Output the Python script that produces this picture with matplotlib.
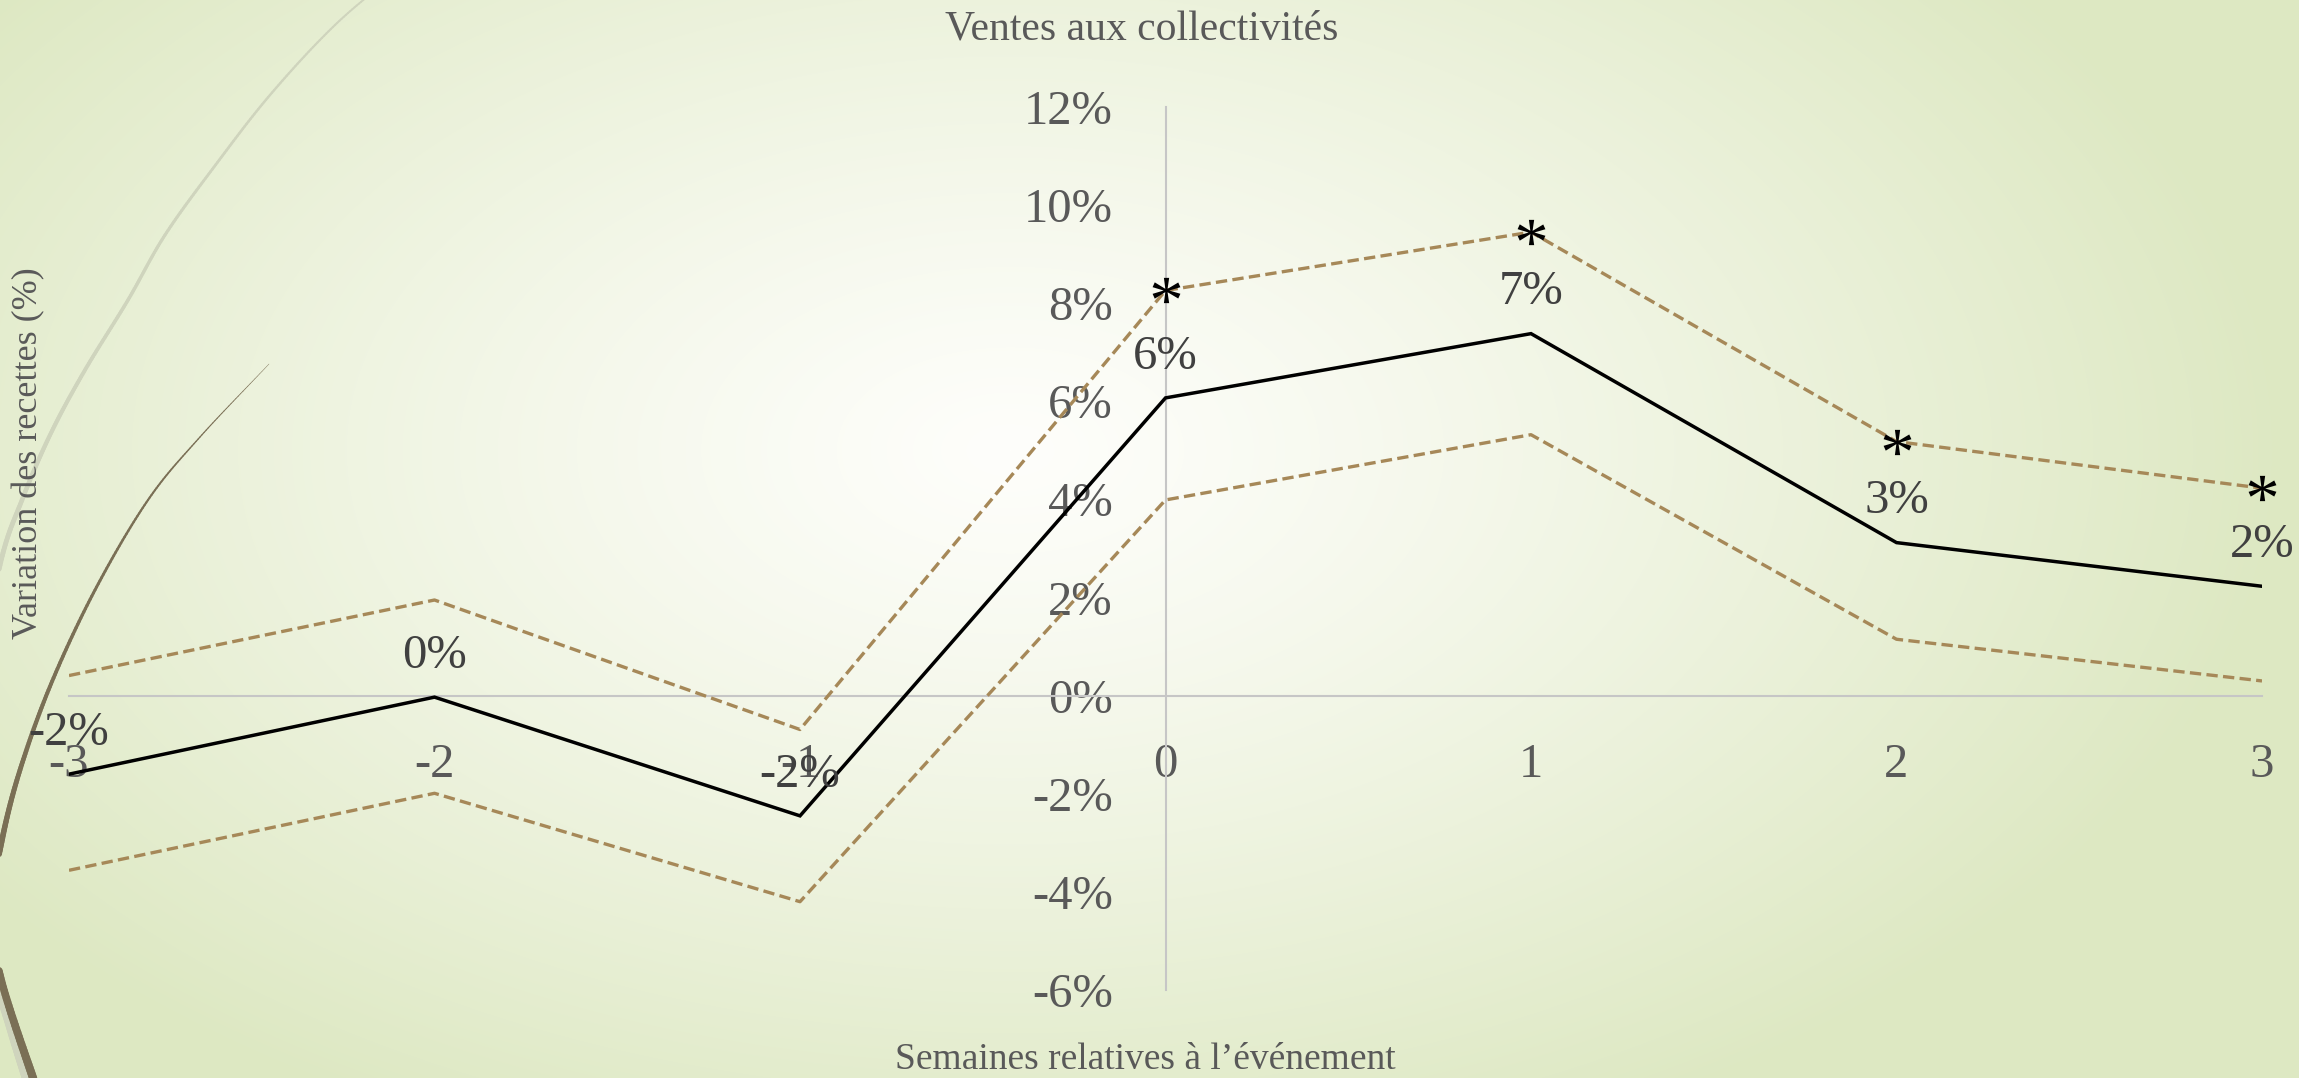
import numpy as np
import matplotlib
matplotlib.use("Agg")
import matplotlib.pyplot as plt
from matplotlib.collections import LineCollection
from matplotlib.textpath import TextPath
from matplotlib.font_manager import FontProperties
from matplotlib.path import Path

# ---------------- data ----------------
weeks = [-3, -2, -1, 0, 1, 2, 3]
effect = [-1.60, -0.03, -2.45, 6.07, 7.38, 3.12, 2.23]
ci_upper = [0.41, 1.95, -0.69, 8.26, 9.45, 5.18, 4.23]
ci_lower = [-3.56, -1.99, -4.20, 3.99, 5.32, 1.15, 0.30]
significant = [False, False, False, True, True, True, True]
y_ticks = [-6, -4, -2, 0, 2, 4, 6, 8, 10, 12]
title = "Ventes aux collectivités"
xlabel = "Semaines relatives à l\u2019événement"
ylabel = "Variation des recettes (%)"

plt.rcParams["font.family"] = ["Liberation Serif", "DejaVu Serif"]

W, H = 2299, 1078
fig = plt.figure(figsize=(W / 100, H / 100), dpi=100)

# ---------------- background (radial gradient + decorative arcs) ----------------
bg = fig.add_axes([0, 0, 1, 1], zorder=0)
yy, xx = np.mgrid[0:H, 0:W]
cx, cy, rx, ry = 1010.0, 450.0, 1280.0, 760.0
t = np.clip(np.sqrt(((xx - cx) / rx) ** 2 + ((yy - cy) / ry) ** 2), 0, 1) ** 1.2
white = np.array([254, 254, 251]) / 255.0
green = np.array([221, 232, 194]) / 255.0
img = white[None, None, :] + (green - white)[None, None, :] * t[..., None]
bg.imshow(img, extent=[0, W, H, 0], aspect="auto", interpolation="bilinear")
bg.set_xlim(0, W)
bg.set_ylim(H, 0)
bg.axis("off")


def catmull(pts, n=30):
    pts = np.asarray(pts, float)
    P = np.vstack([2 * pts[0] - pts[1], pts, 2 * pts[-1] - pts[-2]])
    out = []
    for i in range(1, len(P) - 2):
        p0, p1, p2, p3 = P[i - 1], P[i], P[i + 1], P[i + 2]
        s = np.linspace(0, 1, n, endpoint=False)[:, None]
        out.append(0.5 * (2 * p1 + (-p0 + p2) * s + (2 * p0 - 5 * p1 + 4 * p2 - p3) * s ** 2
                          + (-p0 + 3 * p1 - 3 * p2 + p3) * s ** 3))
    out.append(pts[-1:])
    return np.vstack(out)


def tapered(ax, pts, w0, w1, color):
    c = catmull(pts)
    segs = np.stack([c[:-1], c[1:]], axis=1)
    widths = np.linspace(w0, w1, len(segs))
    ax.add_collection(LineCollection(segs, linewidths=widths, colors=color,
                                     capstyle="round", joinstyle="round"))


light_arc = [(400, -30), (335, 25), (270, 95), (214, 167), (165, 235), (128, 300),
             (85, 370), (51, 433), (22, 500), (0, 565), (-25, 700), (-30, 850),
             (-10, 960), (10, 1030), (25, 1078), (35, 1110)]
brown_arc = [(269, 364), (200, 437), (148, 500), (95, 590), (51, 684), (20, 770),
             (2, 840), (-8, 905), (0, 975), (33, 1078), (45, 1110)]
tapered(bg, light_arc, 1.2, 5.0, "#cfd4bd")
tapered(bg, brown_arc, 0.3, 6.5, "#7a6f55")

# ---------------- main chart ----------------
left, right = 69 / W, 2262 / W
bottom, top = (H - 990) / H, (H - 107) / H
ax = fig.add_axes([left, bottom, right - left, top - bottom], zorder=1)
ax.patch.set_alpha(0)

dash_color = "#a68858"
ax.plot(weeks, ci_upper, color=dash_color, lw=2.4, ls=(0, (3.4, 1.6)), zorder=3)
ax.plot(weeks, ci_lower, color=dash_color, lw=2.4, ls=(0, (3.4, 1.6)), zorder=3)
ax.plot(weeks, effect, color="black", lw=2.5, zorder=4, solid_joinstyle="miter")

# asterisk marker (glyph centered on the point)
tp = TextPath((0, 0), "*", prop=FontProperties(family="Liberation Serif"), size=10)
verts = tp.vertices.copy()
codes = tp.codes.copy()
real = codes != Path.CLOSEPOLY
cen = (verts[real].min(axis=0) + verts[real].max(axis=0)) / 2
verts = verts - cen
verts[~real] = 0.0
star = Path(verts, codes)
sx = [w for w, s in zip(weeks, significant) if s]
sy = [u for u, s in zip(ci_upper, significant) if s]
ax.plot(sx, sy, ls="none", marker=star, markersize=20, color="black",
        markeredgewidth=0, zorder=5, clip_on=False)

for x, val in zip(weeks, effect):
    ax.annotate(f"{int(round(val))}%", (x, val), xytext=(0, 21), textcoords="offset points",
                ha="center", va="baseline", fontsize=35, color="#404040", zorder=6,
                annotation_clip=False)

ax.set_xlim(-3, 3)
ax.set_ylim(-6, 12)
ax.set_xticks(weeks)
ax.set_xticklabels([str(w) for w in weeks])
ax.set_yticks(y_ticks)
ax.set_yticklabels([f"{v}%" for v in y_ticks])

for s in ["top", "right"]:
    ax.spines[s].set_visible(False)
ax.spines["left"].set_position(("data", 0))
ax.spines["bottom"].set_position(("data", 0))
for s in ["left", "bottom"]:
    ax.spines[s].set_color("#c6c6c6")
    ax.spines[s].set_linewidth(1.5)
    ax.spines[s].set_zorder(2)

ax.tick_params(axis="both", length=0, labelsize=35, labelcolor="#595959")
ax.tick_params(axis="x", pad=34)
ax.tick_params(axis="y", pad=38)

ax.set_title(title, x=0.489, y=1.088, va="center", pad=0, fontsize=30, color="#595959")
ax.set_xlabel(xlabel, fontsize=27, color="#595959", va="center")
ax.xaxis.set_label_coords(0.491, -0.079)
ax.set_ylabel(ylabel, fontsize=26, color="#595959", va="center")
ax.yaxis.set_label_coords(-0.0182, 0.608)

fig.savefig("out.png", dpi=100)
